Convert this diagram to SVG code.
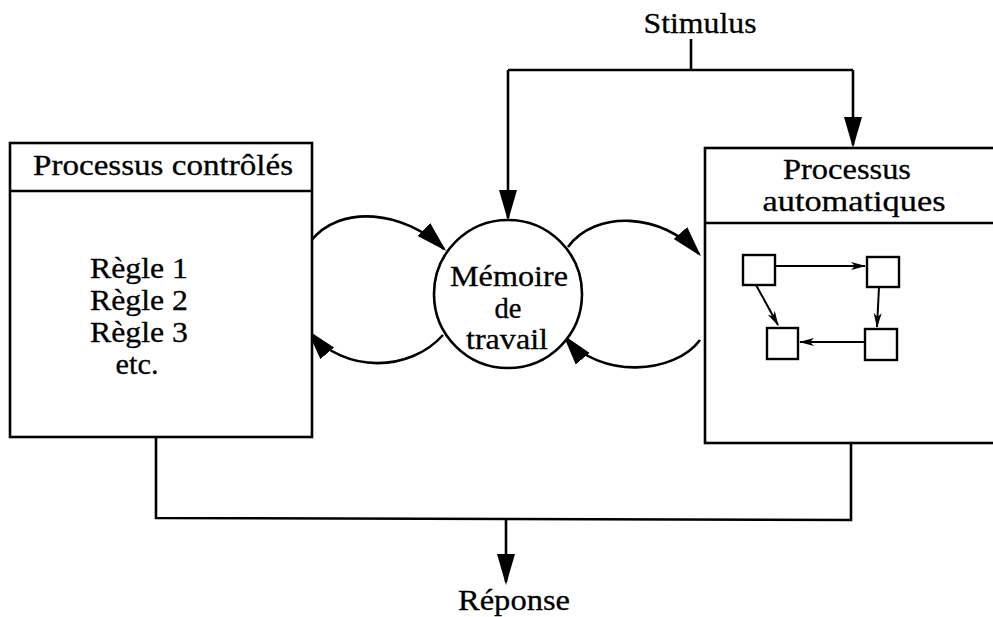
<svg xmlns="http://www.w3.org/2000/svg" width="993" height="617" viewBox="0 0 993 617">
<defs>
<style>
text{font-family:"Liberation Serif","Times New Roman",serif;font-size:30px;fill:#000;stroke:#000;stroke-width:0.3;text-anchor:middle}
.box{fill:#fff;stroke:#000;stroke-width:2.6}
.ln{fill:none;stroke:#000;stroke-width:2.6}
.sm{fill:#fff;stroke:#000;stroke-width:2.4}
.sa{fill:none;stroke:#000;stroke-width:2}
</style>
<marker id="big" markerUnits="userSpaceOnUse" markerWidth="34" markerHeight="20" refX="28" refY="9" orient="auto">
<path d="M0,0 L31,9 L0,18 z" fill="#000"/>
</marker>
<marker id="small" markerUnits="userSpaceOnUse" markerWidth="18" markerHeight="10" refX="14" refY="4" orient="auto">
<path d="M0,0 L15,4 L0,8 L4,4 z" fill="#000"/>
</marker>
</defs>
<rect width="993" height="617" fill="#fff"/>

<g id="connectors">
<polyline class="ln" points="691,39 691,70"/>
<polyline class="ln" points="508,70 853,70"/>
<line class="ln" x1="508" y1="70" x2="508" y2="218" marker-end="url(#big)"/>
<line class="ln" x1="853" y1="70" x2="853" y2="145" marker-end="url(#big)"/>
<path class="ln" d="M310,242 C340,203 405,211 444,249" marker-end="url(#big)"/>
<path class="ln" d="M443,335 C410,372 345,374 309,332" marker-end="url(#big)"/>
<path class="ln" d="M568,247 C595,210 662,212 699,254" marker-end="url(#big)"/>
<path class="ln" d="M700,340 C675,374 600,380 565,337" marker-end="url(#big)"/>
<polyline class="ln" points="156,438 156,518 851,520 851,443"/>
<line class="ln" x1="506" y1="519" x2="506" y2="582" marker-end="url(#big)"/>
</g>

<g id="stimulus"><text x="700" y="33" textLength="113" lengthAdjust="spacingAndGlyphs">Stimulus</text></g>
<g id="reponse"><text x="514" y="610" textLength="112" lengthAdjust="spacingAndGlyphs">Réponse</text></g>

<g id="processus-controles">
<rect class="box" x="10" y="143" width="302" height="294"/>
<line class="ln" x1="10" y1="191" x2="312" y2="191"/>
<text x="163" y="175" textLength="260" lengthAdjust="spacingAndGlyphs">Processus contrôlés</text>
<text x="139" y="278" textLength="98" lengthAdjust="spacingAndGlyphs">Règle 1</text>
<text x="139" y="310" textLength="98" lengthAdjust="spacingAndGlyphs">Règle 2</text>
<text x="139" y="342" textLength="98" lengthAdjust="spacingAndGlyphs">Règle 3</text>
<text x="137" y="374" textLength="43" lengthAdjust="spacingAndGlyphs">etc.</text>
</g>

<g id="memoire-de-travail">
<circle class="box" cx="508" cy="294" r="74"/>
<text x="509" y="286" textLength="118" lengthAdjust="spacingAndGlyphs">Mémoire</text>
<text x="508" y="318" textLength="27" lengthAdjust="spacingAndGlyphs">de</text>
<text x="507" y="349" textLength="82" lengthAdjust="spacingAndGlyphs">travail</text>
</g>

<g id="processus-automatiques">
<rect class="box" x="705" y="148" width="300" height="295"/>
<line class="ln" x1="705" y1="223" x2="993" y2="223"/>
<text x="847" y="179" textLength="128" lengthAdjust="spacingAndGlyphs">Processus</text>
<text x="854" y="211" textLength="183" lengthAdjust="spacingAndGlyphs">automatiques</text>
<g id="auto-graph">
<rect class="sm" x="743" y="255" width="32" height="30"/>
<rect class="sm" x="867" y="257" width="32" height="30"/>
<rect class="sm" x="767" y="328" width="31" height="31"/>
<rect class="sm" x="865" y="329" width="32" height="31"/>
<line class="sa" x1="775" y1="266" x2="865" y2="266" marker-end="url(#small)"/>
<line class="sa" x1="879" y1="287" x2="877" y2="327" marker-end="url(#small)"/>
<line class="sa" x1="865" y1="342" x2="800" y2="342" marker-end="url(#small)"/>
<line class="sa" x1="756" y1="285" x2="778" y2="325" stroke-width="3.5" marker-end="url(#small)"/>
</g>
</g>
</svg>
